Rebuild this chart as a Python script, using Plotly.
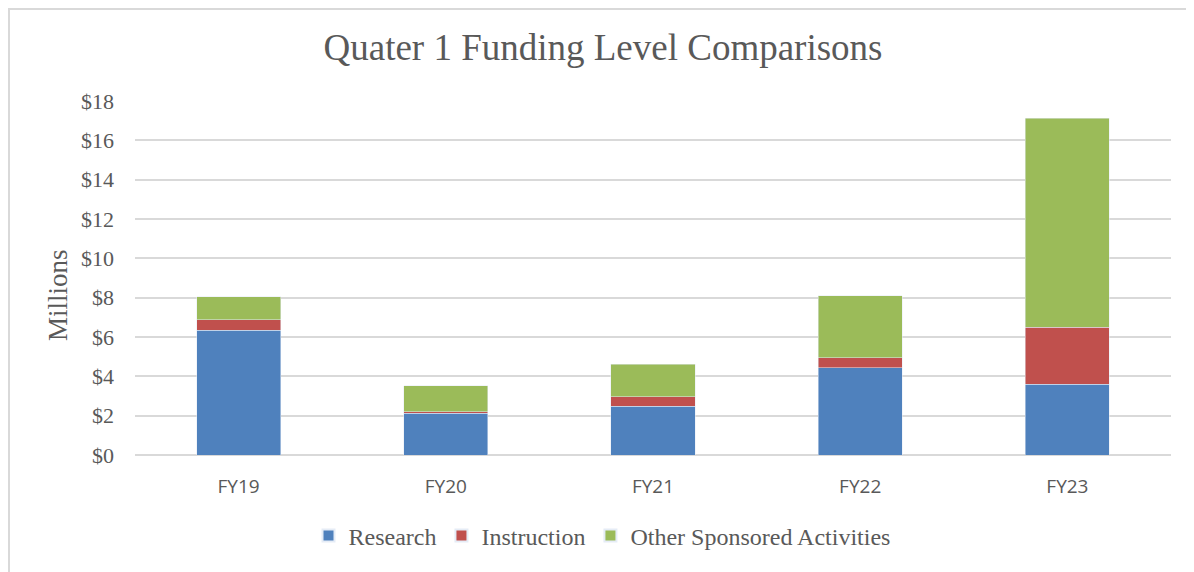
import plotly.graph_objects as go

categories = ["FY19", "FY20", "FY21", "FY22", "FY23"]
research = [6.35, 2.12, 2.48, 4.43, 3.61]
instruction = [0.52, 0.08, 0.49, 0.52, 2.89]
other = [1.18, 1.33, 1.65, 3.14, 10.63]
tick_vals = [0, 2, 4, 6, 8, 10, 12, 14, 16, 18]
tick_text = ["$0", "$2", "$4", "$6", "$8", "$10", "$12", "$14", "$16", "$18"]

serif = "Liberation Serif, Times New Roman, serif"
sans = "Open Sans, Liberation Sans, sans-serif"
gray = "#595959"

fig = go.Figure()
fig.add_trace(go.Bar(name="Research", x=categories, y=research, marker_color="#4f81bd"))
fig.add_trace(go.Bar(name="Instruction", x=categories, y=instruction, marker_color="#c0504d"))
fig.add_trace(go.Bar(name="Other Sponsored Activities", x=categories, y=other, marker_color="#9bbb59"))

# page offset (default body margin) is 8px
OFF = 8
W, H = 1194 - OFF, 572 - OFF
L, R, T, B = 135 - OFF, 23, 101 - OFF, 117
pw, ph = W - L - R, H - T - B

def px_x(p):
    return (p - OFF - L) / pw

def px_y(p):
    return (H - B - (p - OFF)) / ph

fig.update_layout(
    barmode="stack",
    bargap=0.594,
    width=W, height=H,
    margin=dict(l=L, r=R, t=T, b=B, autoexpand=False),
    paper_bgcolor="white",
    plot_bgcolor="white",
    title=dict(text="Quater 1 Funding Level Comparisons", x=(603 - OFF) / W, xanchor="center",
               y=1 - (47 - OFF) / H, yanchor="middle",
               font=dict(family=serif, size=37, color=gray)),
    font=dict(family=serif, color=gray),
    legend=dict(orientation="h", x=px_x(602), xanchor="center",
                y=px_y(536), yanchor="middle",
                font=dict(family=serif, size=24, color=gray),
                itemsizing="constant", traceorder="normal", itemwidth=30),
    showlegend=True,
    xaxis=dict(tickfont=dict(family=sans, size=19, color=gray), showline=False,
               showgrid=False, ticklabelstandoff=18),
    yaxis=dict(range=[0, 18], tickvals=tick_vals, ticktext=tick_text,
               tickfont=dict(family=serif, size=22, color=gray),
               gridcolor="#d9d9d9", gridwidth=1.5, zeroline=True, zerolinecolor="#d9d9d9",
               zerolinewidth=1.5, ticklabelstandoff=20),
    annotations=[dict(text="Millions", xref="paper", yref="paper", x=px_x(58), y=px_y(295),
                      xanchor="center", yanchor="middle", textangle=-90, showarrow=False,
                      font=dict(family=serif, size=27, color=gray))],
    shapes=[dict(type="rect", xref="paper", yref="paper",
                 x0=px_x(OFF + 1), x1=px_x(1210), y0=px_y(590), y1=px_y(OFF + 1),
                 line=dict(color="#d9d9d9", width=2), fillcolor="rgba(0,0,0,0)", layer="below")],
)

fig.write_html("out.html")
